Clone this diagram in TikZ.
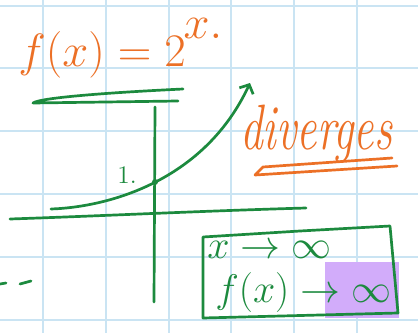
\documentclass[tikz,border=0pt]{standalone}
\usepackage{xcolor}
\usetikzlibrary{arrows.meta}
\definecolor{penorange}{RGB}{236,112,38}
\definecolor{pengreen}{RGB}{28,138,62}
\definecolor{gridblue}{RGB}{202,228,243}
\definecolor{hilite}{RGB}{210,172,250}

\begin{document}
\begin{tikzpicture}[x=0.03cm, y=-0.03cm,
      every node/.style={inner sep=0pt, font=\Huge},
      pen/.style={line width=2.3pt, line cap=round, line join=round},
      gpen/.style={pen, draw=pengreen},
      open/.style={pen, draw=penorange},
      gridline/.style={draw=gridblue, line width=0.9pt}]
    \useasboundingbox (0,0) rectangle (418,333);
    \fill[white] (0,0) rectangle (418,333);
    \foreach \gx in {43,106,169,231,294,357} \draw[gridline] (\gx,0) -- (\gx,333);
    \foreach \gy in {6,68,131,194,257,320} \draw[gridline] (0,\gy) -- (418,\gy);
    \fill[hilite] (325,262) rectangle (399,318);
    \node[anchor=base west, text=penorange, xscale=1.6, yscale=1.6] (fx) at (18,66) {$f(x)=2$};
    \node[text=penorange, scale=1.6] (expo) at (203,28) {$x.$};
    \draw[gpen] (183,89) .. controls (100,93) and (40,98) .. (33,103) -- (178,101);
    \coordinate (yt) at (155,107); \coordinate (yb) at (154,302);
    \coordinate (xl) at (10,219); \coordinate (xr) at (306,208);
    \draw[gpen] (yt) -- (yb);
    \draw[gpen] (xl) .. controls (100,216) and (200,211) .. (xr);
    \coordinate (c0) at (51,209); \coordinate (tip) at (250,83);
    \draw[gpen, -{Straight Barb[length=6pt, width=13pt]}]
      (c0) .. controls (110,207) and (205,180) .. (tip);
    \fill[pengreen] (155,182) circle (3);
    \node[text=pengreen, font=\Large, scale=1.5] (one) at (127,175) {1.};
    \node[anchor=base west, text=penorange, xscale=1.55, yscale=2.2,
      font=\Huge\itshape] (div) at (240,149) {diverges};
    \draw[open] (392,158) -- (263,167) -- (255,175) -- (397,166);
    \draw[gpen] (203,237) -- (300,231) -- (390,226) -- (398,313) -- (203,318) -- cycle;
    \node[anchor=base west, text=pengreen, scale=1.37] (xinf) at (207,258) {$x\to\infty$};
    \node[anchor=base west, text=pengreen, scale=1.37] (fxinf) at (215,302) {$f(x)\to\infty$};
    \draw[gpen] (0,284) -- (6,283);
    \draw[gpen] (20,284) -- (31,281);
  \end{tikzpicture}
\end{document}
